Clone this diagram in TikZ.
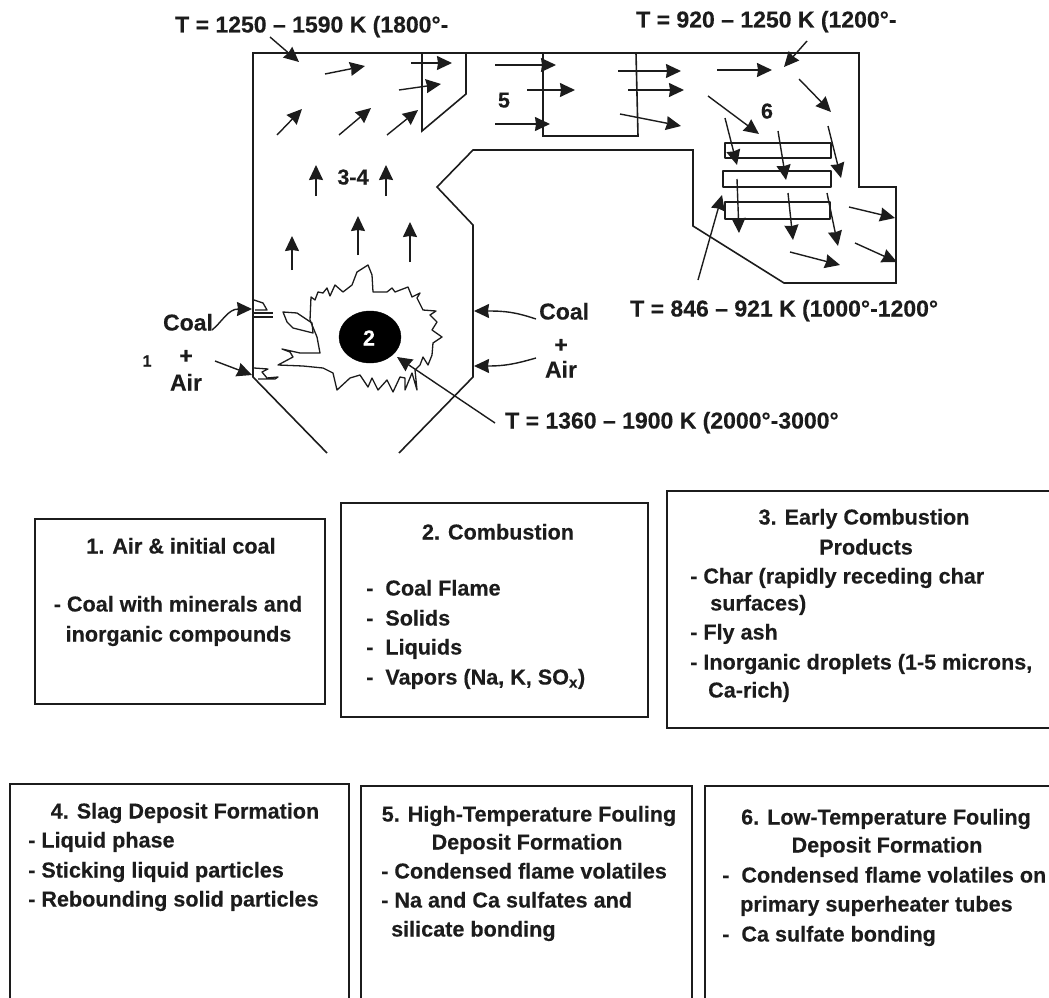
\documentclass[tikz,border=0pt]{standalone}
\usepackage{fontspec}
\setmainfont[FakeBold=0.3]{Liberation Sans}
\usetikzlibrary{arrows.meta,shapes.geometric}
\definecolor{ink}{HTML}{1C1C1C}
\tikzset{
  wall/.style={draw=ink,line width=1.6pt,line join=miter},
  thin wall/.style={draw=ink,line width=1.3pt,line join=round},
  flowarrow/.style={draw=ink,line width=1.4pt,-{Stealth[length=15pt,width=14pt,inset=1pt]}},
  lbl/.style={text=ink,inner sep=0pt,text height=16pt,text depth=1pt,font=\bfseries\fontsize{21.6}{24}\selectfont},
  big/.style={font=\bfseries\fontsize{23}{26}\selectfont},
  lineL/.style={lbl,anchor=west},
  lineC/.style={lbl,anchor=center},
  infobox/.style={draw=ink,line width=1.6pt,inner sep=0pt,outer sep=0pt,fill=white}
}
\newcommand{\flow}[3]{\coordinate (#1s) at (#2);\coordinate (#1e) at (#3);\draw[flowarrow] (#1s) -- (#1e);}
\begin{document}
\begin{tikzpicture}[x=1pt,y=-1pt]
\useasboundingbox (0,0) rectangle (1049,998);
% furnace outline
\draw[wall] (327,453) -- (253,377) -- (253,53) -- (859,53) -- (859,187) -- (896,187) -- (896,283) -- (784,283) -- (693,226) -- (693,150) -- (473,150) -- (437,187) -- (473,225) -- (473,377) -- (399,453);
% noses
\draw[wall] (466,53) -- (466,94) -- (422,131) -- (422,53);
\draw[wall] (543,53) -- (543,136) -- (638,136) -- (636,53);
% tubes
\draw[thin wall] (725,143) rectangle (831,158);
\draw[thin wall] (723,171) rectangle (831,187);
\draw[thin wall] (725,202) rectangle (830,219);
% arrows
\flow{a1}{270,37}{299,62}
\flow{a2}{325,74}{365,66}
\flow{a3}{411,63}{452,63}
\flow{a4}{399,90}{441,84}
\flow{a5}{277,135}{302,109}
\flow{a6}{339,135}{371,108}
\flow{a7}{387,135}{418,110}
\flow{a8}{316,196}{316,165}
\flow{a9}{386,196}{386,165}
\flow{a10}{292,270}{292,236}
\flow{a11}{358,255}{358,216}
\flow{a12}{410,262}{410,222}
\flow{b1}{495,65}{556,65}
\flow{b2}{527,90}{575,90}
\flow{b3}{495,124}{550,124}
\flow{b4}{618,71}{681,71}
\flow{b5}{628,90}{684,90}
\flow{b6}{620,114}{681,126}
\flow{b7}{717,70}{772,70}
\flow{b8}{807,41}{784,67}
\flow{b9}{799,79}{831,112}
\flow{b10}{708,96}{759,134}
\flow{b11}{725,118}{737,165}
\flow{b12}{778,131}{786,180}
\flow{b13}{828,126}{841,178}
\flow{b14}{737,179}{739,233}
\flow{b15}{788,193}{793,240}
\flow{b16}{827,193}{838,246}
\flow{b17}{849,207}{895,218}
\flow{b18}{855,243}{897,262}
\flow{b19}{790,252}{840,265}
\flow{b20}{698,280}{722,195}
\flow{c1}{495,423}{397,357}
% coal/air feed arrows
\coordinate (cl1) at (212,330);\coordinate (cl2) at (252,309);
\draw[flowarrow] (cl1) .. controls (222,322) and (228,309) .. (cl2);
\flow{cl3}{215,361}{252,375}
\coordinate (cr1) at (536,319);\coordinate (cr2) at (474,311);
\draw[flowarrow] (cr1) .. controls (515,312) and (505,311) .. (cr2);
\coordinate (cr3) at (536,358);\coordinate (cr4) at (474,366);
\draw[flowarrow] (cr3) .. controls (515,364) and (505,366) .. (cr4);
% flame
\draw[thin wall] plot coordinates {
(310,320)(311,297)(315,300)(318,292)(323,293)(327,288)(330,296)(335,285)(343,292)(352,285)(357,272)(368,265)(372,275)(373,292)(387,292)(392,288)(395,292)(408,287)(412,297)(420,293)(417,298)(423,310)(436,311)(430,315)(437,322)(432,330)(442,337)(433,343)(432,355)(428,365)(423,357)(420,365)(415,370)(417,390)(412,373)(405,390)(405,378)(400,377)(393,392)(387,380)(378,390)(372,378)(368,387)(360,375)(350,378)(337,390)(333,373)(323,368)(303,366)(278,365)(293,357)(290,352)(282,349)(300,353)(320,353)(317,337)(310,320)};
\draw[thin wall] (283,312) -- (297,313) -- (312,323) -- (313,333) -- (293,328) -- (287,322) -- cycle;
% burners
\draw[thin wall] (254,300) -- (263,303) -- (267,310) -- (255,310);
\draw[thin wall] (254,313) -- (273,313);
\draw[thin wall] (254,317) -- (273,317);
\draw[thin wall] (254,368) -- (268,369) -- (262,372) -- (267,378) -- (278,377) -- (275,379) -- (258,379);
% combustion core
\node[draw=black,fill=black,ellipse,minimum width=62pt,minimum height=52pt,inner sep=0pt] (core) at (370,337) {};
\node[lbl,text=white] (coretext) at (369,338) {2};
% labels
\node[lineL,big] (t1) at (175,25) {T = 1250 -- 1590 K (1800°-};
\node[lineL,big] (t2) at (636,20) {T = 920 -- 1250 K (1200°-};
\node[lineL,big] (t3) at (630,309) {T = 846 -- 921 K (1000°-1200°};
\node[lineL,big] (t4) at (505,421) {T = 1360 -- 1900 K (2000°-3000°};
\node[lineC,big] (cL) at (188,323) {Coal};
\node[lineC,big] (pL) at (186,356) {+};
\node[lineC,big] (aL) at (186,383) {Air};
\node[lbl,text height=12pt,font=\bfseries\fontsize{16}{18}\selectfont] (one) at (147,361) {1};
\node[lineL,big] (cR) at (539,312) {Coal};
\node[lineC,big] (pR) at (561,345) {+};
\node[lineC,big] (aR) at (561,370) {Air};
\node[lineC] (n34) at (353,177) {3-4};
\node[lineC] (n5) at (504,100) {5};
\node[lineC] (n6) at (767,111) {6};
% info boxes
\node[infobox,minimum width=290pt,minimum height=185pt] (box1) at (180,611.5) {};
\node[infobox,minimum width=307pt,minimum height=214pt] (box2) at (494.5,610) {};
\node[infobox,minimum width=388pt,minimum height=237pt] (box3) at (861,609.5) {};
\node[infobox,minimum width=339pt,minimum height=216pt] (box4) at (179.5,892) {};
\node[infobox,minimum width=331pt,minimum height=214pt] (box5) at (526.5,893) {};
\node[infobox,minimum width=350pt,minimum height=214pt] (box6) at (880,893) {};
% box 1
\node[lineC] (l11) at (181,546) {1. Air \& initial coal};
\node[lineC] (l12) at (178,604) {- Coal with minerals and};
\node[lineC] (l13) at (178.5,634) {inorganic compounds};
% box 2
\node[lineC] (l21) at (498,532) {2. Combustion};
\node[lineL] (l22) at (366,588) {-\hspace{12pt}Coal Flame};
\node[lineL] (l23) at (366,618) {-\hspace{12pt}Solids};
\node[lineL] (l24) at (366,647) {-\hspace{12pt}Liquids};
\node[lineL] (l25) at (366,677) {-\hspace{12pt}Vapors (Na, K, SO$_{\mathbf{x}}$)};
% box 3
\node[lineC] (l31) at (864,517) {3. Early Combustion};
\node[lineC] (l32) at (866,547) {Products};
\node[lineL] (l33) at (690,576) {- Char (rapidly receding char};
\node[lineL] (l34) at (710,603) {surfaces)};
\node[lineL] (l35) at (690,632) {- Fly ash};
\node[lineL] (l36) at (690,662) {- Inorganic droplets (1-5 microns,};
\node[lineL] (l37) at (708,690) {Ca-rich)};
% box 4
\node[lineC] (l41) at (185,811) {4. Slag Deposit Formation};
\node[lineL] (l42) at (28,840) {- Liquid phase};
\node[lineL] (l43) at (28,870) {- Sticking liquid particles};
\node[lineL] (l44) at (28,899) {- Rebounding solid particles};
% box 5
\node[lineC] (l51) at (529,814) {5. High-Temperature Fouling};
\node[lineC] (l52) at (527,842) {Deposit Formation};
\node[lineL] (l53) at (381,871) {- Condensed flame volatiles};
\node[lineL] (l54) at (381,900) {- Na and Ca sulfates and};
\node[lineL] (l55) at (391,929) {silicate bonding};
% box 6
\node[lineC] (l61) at (886,817) {6. Low-Temperature Fouling};
\node[lineC] (l62) at (887,845) {Deposit Formation};
\node[lineL] (l63) at (722,875) {-\hspace{12pt}Condensed flame volatiles on};
\node[lineL] (l64) at (740,904) {primary superheater tubes};
\node[lineL] (l65) at (722,934) {-\hspace{12pt}Ca sulfate bonding};
\end{tikzpicture}
\end{document}
